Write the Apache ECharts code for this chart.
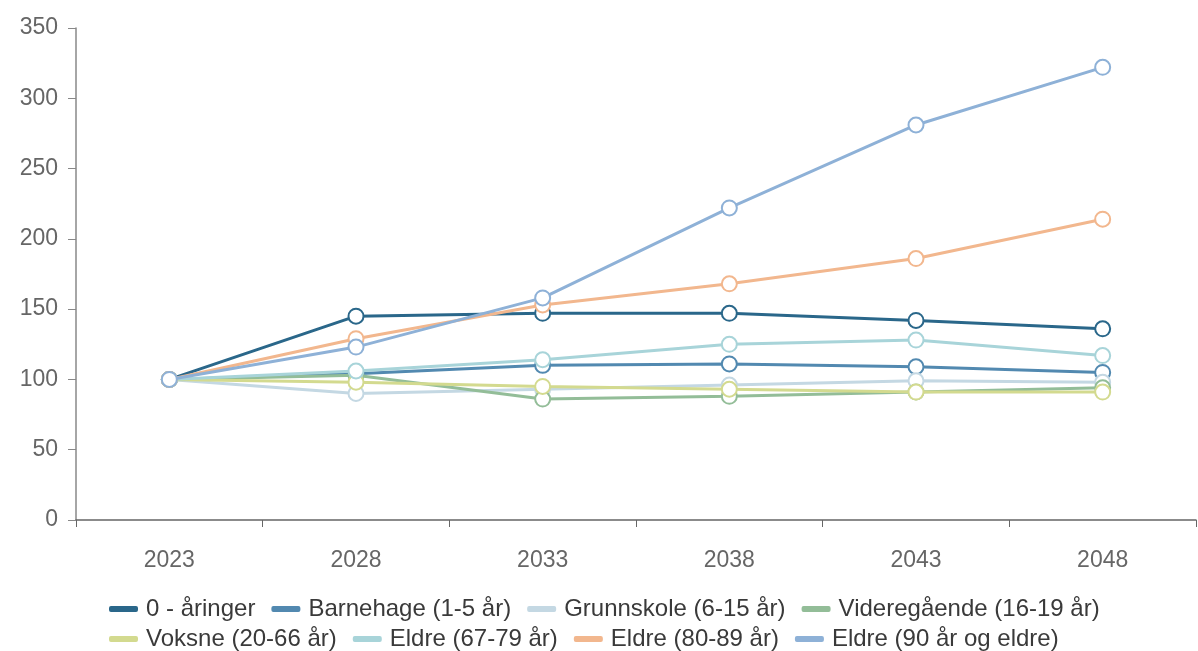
<!DOCTYPE html>
<html>
<head>
<meta charset="utf-8">
<script src="https://cdn.jsdelivr.net/npm/echarts@6/dist/echarts.min.js"></script>
<style>
html,body{margin:0;padding:0;background:#fff;}
#chart{width:1198px;height:651px;}
</style>
</head>
<body>
<div id="chart"></div>
<script>
const years = ['2023','2028','2033','2038','2043','2048'];
const yTicks = [0,50,100,150,200,250,300,350];

const seriesNames = [
  '0 - åringer',
  'Barnehage (1-5 år)',
  'Grunnskole (6-15 år)',
  'Videregående (16-19 år)',
  'Voksne (20-66 år)',
  'Eldre (67-79 år)',
  'Eldre (80-89 år)',
  'Eldre (90 år og eldre)'
];
const aaringer      = [100, 145, 147, 147, 142, 136];
const barnehage     = [100, 104, 110, 111, 109, 105];
const grunnskole    = [100, 90, 93, 96, 99, 98];
const videregaende  = [100, 103, 86, 88, 91, 94];
const voksne        = [100, 98, 95, 93, 91, 91];
const eldre6779     = [100, 106, 114, 125, 128, 117];
const eldre8089     = [100, 129, 153, 168, 186, 214];
const eldre90       = [100, 123, 158, 222, 281, 322];

const seriesData = [aaringer, barnehage, grunnskole, videregaende, voksne, eldre6779, eldre8089, eldre90];
const colors = ['#2a678a','#5289b0','#c4d8e3','#93bd98','#d3da8f','#a8d4d9','#f2b78e','#8eb1d7'];

const FONT = 'Liberation Sans';
const legendBase = {
  icon: 'roundRect', itemWidth: 27, itemHeight: 4, itemGap: 16,
  textStyle: {fontSize: 24, fontFamily: FONT, color: '#3a3a3a', padding: [0,0,0,4]}
};
const chart = echarts.init(document.getElementById('chart'));
chart.setOption({
  animation: false,
  backgroundColor: '#fff',
  color: colors,
  grid: {left: 76, right: 2, top: 28, bottom: 131, containLabel: false},
  xAxis: {
    type: 'category',
    data: years,
    boundaryGap: true,
    axisLine: {show: true, lineStyle: {color: '#666', width: 1.5}},
    axisTick: {show: true, length: 7, lineStyle: {color: '#666'}},
    axisLabel: {color: '#666', fontSize: 23, fontFamily: FONT, margin: 29},
    splitLine: {show: false}
  },
  yAxis: {
    type: 'value',
    min: 0, max: 350, interval: 50,
    axisLine: {show: true, lineStyle: {color: '#888', width: 1.5}},
    axisTick: {show: true, length: 8, lineStyle: {color: '#888'}},
    axisLabel: {color: '#666', fontSize: 23, fontFamily: FONT, margin: 18},
    splitLine: {show: false}
  },
  legend: [
    Object.assign({data: seriesNames.slice(0,4), left: 104, top: 592}, legendBase),
    Object.assign({data: seriesNames.slice(4), left: 104, top: 622}, legendBase)
  ],
  series: seriesNames.map((name, i) => ({
    name: name,
    type: 'line',
    data: seriesData[i],
    symbol: 'emptyCircle',
    symbolSize: 15,
    lineStyle: {width: 3, color: colors[i]},
    itemStyle: {color: colors[i], borderWidth: 2.5, borderColor: colors[i]},
    z: 2 + i
  }))
});
</script>
</body>
</html>
